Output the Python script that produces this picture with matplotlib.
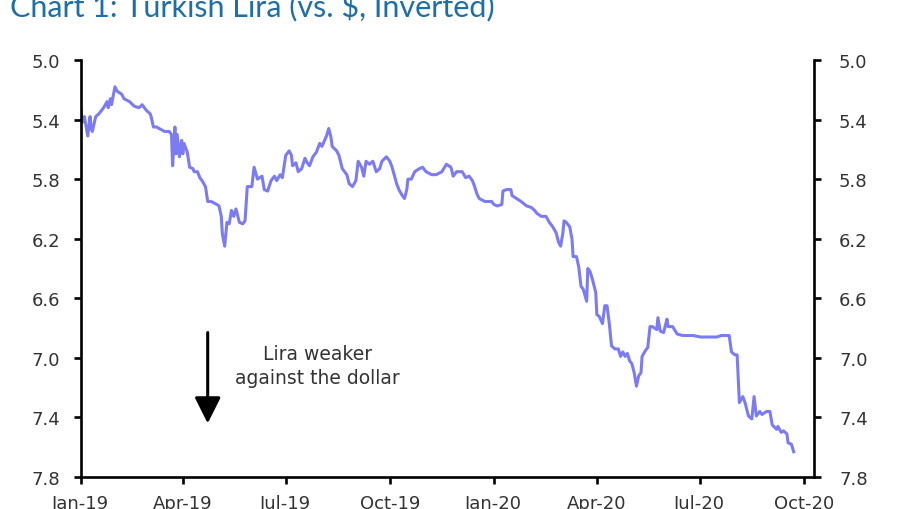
import matplotlib
matplotlib.use("Agg")
import matplotlib.pyplot as plt
import matplotlib.dates as mdates
import pandas as pd

# USD/TRY (axis is inverted)
dates = [
    "2019-01-01", "2019-01-02", "2019-01-04", "2019-01-07", "2019-01-09", "2019-01-10", "2019-01-11",
    "2019-01-14", "2019-01-17", "2019-01-19", "2019-01-21", "2019-01-24", "2019-01-25", "2019-01-27",
    "2019-01-28", "2019-01-31", "2019-02-02", "2019-02-06", "2019-02-08", "2019-02-13", "2019-02-17",
    "2019-02-21", "2019-02-23", "2019-02-24", "2019-02-28", "2019-03-03", "2019-03-04", "2019-03-06",
    "2019-03-09", "2019-03-11", "2019-03-16", "2019-03-20", "2019-03-22", "2019-03-23", "2019-03-24",
    "2019-03-25", "2019-03-26", "2019-03-27", "2019-03-29", "2019-03-31", "2019-04-01", "2019-04-02",
    "2019-04-05", "2019-04-07", "2019-04-10", "2019-04-11", "2019-04-14", "2019-04-16", "2019-04-18",
    "2019-04-21", "2019-04-23", "2019-04-26", "2019-05-01", "2019-05-03", "2019-05-05", "2019-05-06",
    "2019-05-08", "2019-05-10", "2019-05-12", "2019-05-14", "2019-05-16", "2019-05-18", "2019-05-21",
    "2019-05-24", "2019-05-26", "2019-05-28", "2019-06-01", "2019-06-03", "2019-06-06", "2019-06-10",
    "2019-06-12", "2019-06-15", "2019-06-18", "2019-06-21", "2019-06-23", "2019-06-26", "2019-06-28",
    "2019-07-01", "2019-07-04", "2019-07-06", "2019-07-07", "2019-07-10", "2019-07-12", "2019-07-15",
    "2019-07-18", "2019-07-20", "2019-07-22", "2019-07-25", "2019-07-28", "2019-07-31", "2019-08-02",
    "2019-08-06", "2019-08-08", "2019-08-10", "2019-08-11", "2019-08-15", "2019-08-17", "2019-08-20",
    "2019-08-24", "2019-08-26", "2019-08-29", "2019-09-01", "2019-09-03", "2019-09-06", "2019-09-08",
    "2019-09-10", "2019-09-13", "2019-09-16", "2019-09-19", "2019-09-22", "2019-09-24", "2019-09-28",
    "2019-10-01", "2019-10-03", "2019-10-07", "2019-10-09", "2019-10-12", "2019-10-14", "2019-10-16",
    "2019-10-17", "2019-10-20", "2019-10-23", "2019-10-27", "2019-10-30", "2019-11-02", "2019-11-07",
    "2019-11-11", "2019-11-16", "2019-11-20", "2019-11-24", "2019-11-26", "2019-11-29", "2019-12-04",
    "2019-12-07", "2019-12-10", "2019-12-13", "2019-12-15", "2019-12-17", "2019-12-19", "2019-12-24",
    "2019-12-30", "2020-01-01", "2020-01-04", "2020-01-08", "2020-01-09", "2020-01-12", "2020-01-16",
    "2020-01-17", "2020-01-21", "2020-01-25", "2020-01-30", "2020-02-03", "2020-02-06", "2020-02-08",
    "2020-02-12", "2020-02-16", "2020-02-19", "2020-02-22", "2020-02-25", "2020-02-27", "2020-02-29",
    "2020-03-02", "2020-03-03", "2020-03-05", "2020-03-08", "2020-03-10", "2020-03-11", "2020-03-14",
    "2020-03-16", "2020-03-18", "2020-03-20", "2020-03-23", "2020-03-24", "2020-03-26", "2020-03-28",
    "2020-03-31", "2020-04-01", "2020-04-03", "2020-04-06", "2020-04-08", "2020-04-10", "2020-04-12",
    "2020-04-14", "2020-04-17", "2020-04-20", "2020-04-22", "2020-04-24", "2020-04-26", "2020-04-28",
    "2020-04-30", "2020-05-02", "2020-05-04", "2020-05-06", "2020-05-08", "2020-05-10", "2020-05-11",
    "2020-05-14", "2020-05-16", "2020-05-18", "2020-05-20", "2020-05-24", "2020-05-25", "2020-05-27",
    "2020-05-30", "2020-06-02", "2020-06-03", "2020-06-07", "2020-06-11", "2020-06-16", "2020-06-25",
    "2020-07-02", "2020-07-07", "2020-07-12", "2020-07-16", "2020-07-20", "2020-07-23", "2020-07-27",
    "2020-07-29", "2020-08-01", "2020-08-03", "2020-08-05", "2020-08-08", "2020-08-10", "2020-08-13",
    "2020-08-16", "2020-08-18", "2020-08-20", "2020-08-23", "2020-08-25", "2020-08-29", "2020-09-01",
    "2020-09-03", "2020-09-07", "2020-09-08", "2020-09-11", "2020-09-13", "2020-09-16", "2020-09-17",
    "2020-09-20", "2020-09-22",
]
usdtry = [
    5.33, 5.42, 5.38, 5.51, 5.38, 5.46, 5.48,
    5.38, 5.36, 5.34, 5.32, 5.28, 5.32, 5.26,
    5.30, 5.18, 5.21, 5.23, 5.26, 5.28, 5.31,
    5.32, 5.31, 5.30, 5.34, 5.36, 5.38, 5.45,
    5.45, 5.46, 5.48, 5.48, 5.50, 5.71, 5.58,
    5.45, 5.63, 5.50, 5.65, 5.54, 5.63, 5.56,
    5.62, 5.72, 5.73, 5.75, 5.75, 5.79, 5.81,
    5.85, 5.95, 5.95, 5.97, 5.98, 6.05, 6.17,
    6.25, 6.09, 6.10, 6.01, 6.05, 6.00, 6.09,
    6.10, 6.08, 5.85, 5.85, 5.72, 5.80, 5.78,
    5.87, 5.88, 5.81, 5.78, 5.81, 5.77, 5.79,
    5.64, 5.61, 5.64, 5.71, 5.69, 5.75, 5.73,
    5.66, 5.69, 5.71, 5.65, 5.62, 5.56, 5.58,
    5.51, 5.46, 5.52, 5.58, 5.61, 5.64, 5.73,
    5.77, 5.83, 5.85, 5.81, 5.68, 5.72, 5.78,
    5.68, 5.70, 5.68, 5.75, 5.73, 5.68, 5.65,
    5.68, 5.72, 5.83, 5.87, 5.91, 5.93, 5.87,
    5.80, 5.80, 5.75, 5.73, 5.72, 5.75, 5.77,
    5.77, 5.75, 5.70, 5.72, 5.78, 5.75, 5.75,
    5.79, 5.78, 5.81, 5.85, 5.90, 5.93, 5.95,
    5.95, 5.97, 5.98, 5.97, 5.88, 5.87, 5.87,
    5.91, 5.93, 5.95, 5.98, 5.99, 6.01, 6.03,
    6.05, 6.05, 6.09, 6.12, 6.16, 6.22, 6.25,
    6.16, 6.08, 6.09, 6.12, 6.20, 6.32, 6.32,
    6.39, 6.52, 6.54, 6.62, 6.40, 6.42, 6.47,
    6.56, 6.71, 6.72, 6.77, 6.65, 6.65, 6.77,
    6.92, 6.94, 6.94, 6.99, 6.96, 6.99, 6.97,
    7.02, 7.04, 7.10, 7.19, 7.12, 7.10, 6.99,
    6.95, 6.93, 6.79, 6.79, 6.81, 6.73, 6.82,
    6.83, 6.74, 6.79, 6.79, 6.84, 6.85, 6.85,
    6.86, 6.86, 6.86, 6.86, 6.85, 6.85, 6.85,
    6.96, 6.98, 6.98, 7.30, 7.26, 7.30, 7.39,
    7.41, 7.26, 7.39, 7.36, 7.38, 7.36, 7.36,
    7.45, 7.48, 7.46, 7.50, 7.49, 7.51, 7.57,
    7.58, 7.63,
]
y_ticks = [5.0, 5.4, 5.8, 6.2, 6.6, 7.0, 7.4, 7.8]
x_start, x_end = "2019-01-01", "2020-10-10"
arrow_date = "2019-04-23"
arrow_from, arrow_to = 6.83, 7.44
label_date = "2019-07-29"
label_value = 7.05

line_color = "#7b7bf4"
title_color = "#1d6fa5"
text_color = "#333333"

dates = pd.to_datetime(dates)

fig = plt.figure(figsize=(8.99, 5.10), dpi=100)
ax = fig.add_axes([0.0901, 0.0627, 0.8154, 0.8177])
ax.plot(dates, usdtry, color=line_color, lw=2.2)

ax.set_xlim(pd.Timestamp(x_start), pd.Timestamp(x_end))
ax.set_ylim(y_ticks[-1], y_ticks[0])
ax.set_yticks(y_ticks)
ax.set_yticklabels([f"{t:.1f}" for t in y_ticks])
ax.xaxis.set_major_locator(mdates.MonthLocator(bymonth=[1, 4, 7, 10]))
ax.xaxis.set_major_formatter(mdates.DateFormatter("%b-%y"))

ax2 = ax.twinx()
ax2.set_ylim(ax.get_ylim())
ax2.set_yticks(y_ticks)
ax2.set_yticklabels([f"{t:.1f}" for t in y_ticks])

for a in (ax, ax2):
    a.spines["top"].set_visible(False)
    for s in ("left", "right", "bottom"):
        a.spines[s].set_linewidth(1.9)
    a.tick_params(width=1.9, length=5, labelsize=13, labelcolor=text_color, pad=10)
ax.spines["right"].set_visible(False)
ax2.spines["left"].set_visible(False)
ax2.spines["bottom"].set_visible(False)
ax2.tick_params(axis="y", pad=13)
ax.tick_params(axis="x", pad=7)

ax.annotate("", xy=(pd.Timestamp(arrow_date), arrow_to),
            xytext=(pd.Timestamp(arrow_date), arrow_from),
            arrowprops=dict(arrowstyle="-|>,head_width=0.4,head_length=0.8",
                            lw=2.2, color="black", mutation_scale=20,
                            shrinkA=0, shrinkB=0))
ax.text(pd.Timestamp(label_date), label_value, "Lira weaker\nagainst the dollar",
        ha="center", va="center", fontsize=13.5, color=text_color, linespacing=1.35)

fig.text(0.011, 0.9667, "Chart 1: Turkish Lira (vs. $, Inverted)", color=title_color,
         fontsize=22, family="Lato", va="baseline", ha="left")

fig.savefig("out.png", dpi=100)
